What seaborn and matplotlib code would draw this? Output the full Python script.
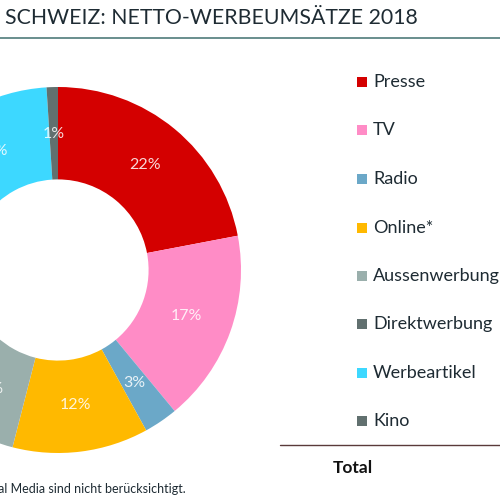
import matplotlib
matplotlib.use("Agg")
import matplotlib.pyplot as plt
import seaborn as sns

categories = ["Presse", "TV", "Radio", "Online*", "Aussenwerbung",
              "Direktwerbung", "Werbeartikel", "Kino"]
shares = [22, 17, 3, 12, 8, 23, 14, 1]
colors_hex = ["#D40000", "#FF8CC6", "#6BA8C8", "#FFB900", "#9AAFAC",
              "#61706F", "#3DD8FF", "#61706F"]
title = "SCHWEIZ: NETTO-WERBEUMSÄTZE 2018"
footnote = "*Suchmaschinen und Social Media sind nicht berücksichtigt."
total_label = "Total"

sns.set_theme(style="white")
plt.rcParams["font.family"] = ["Lato", "DejaVu Sans"]
palette = sns.color_palette(colors_hex)

fig = plt.figure(figsize=(5, 5), dpi=100)
ax = fig.add_axes([0, 0, 1, 1])

R = 183
wedges, texts, autotexts = ax.pie(
    shares, colors=palette, startangle=90, counterclock=False,
    center=(58, 230), radius=R,
    wedgeprops=dict(width=R * 0.505, edgecolor="none"),
    autopct=lambda p: f"{p:.0f}%", pctdistance=0.745,
    textprops=dict(color="white", fontsize=11.5, alpha=0.85),
)
ax.set_xlim(0, 500)
ax.set_ylim(0, 500)
ax.set_aspect("equal")
ax.axis("off")

# title and rule
fig.text(5 / 500, 1 - 18 / 500, title, fontsize=15.3, color="#1E2B33",
         va="center", ha="left")
ax.plot([0, 500], [500 - 37.5, 500 - 37.5], color="#4F7C7A", lw=1.2,
        solid_capstyle="butt")

# legend
legend_y = [82, 130, 179, 228, 276, 324, 373, 421]
for cat, col, y in zip(categories, palette, legend_y):
    ax.add_patch(plt.Rectangle((357, 500 - y - 5), 10, 10, color=col, lw=0))
    ax.text(373, 500 - y, cat, fontsize=13, color="#1E2B33",
            va="center", ha="left")

# total row
ax.plot([280, 500], [500 - 444.5, 500 - 444.5], color="#5A3A3A", lw=1.0)
ax.text(333, 500 - 468, total_label, fontsize=12.5, fontweight="bold",
        color="#111111", va="center", ha="left")

# footnote
ax.text(186, 500 - 489, footnote, fontsize=9, color="#1E2B33",
        va="center", ha="right")

fig.savefig("out.png", dpi=100)
